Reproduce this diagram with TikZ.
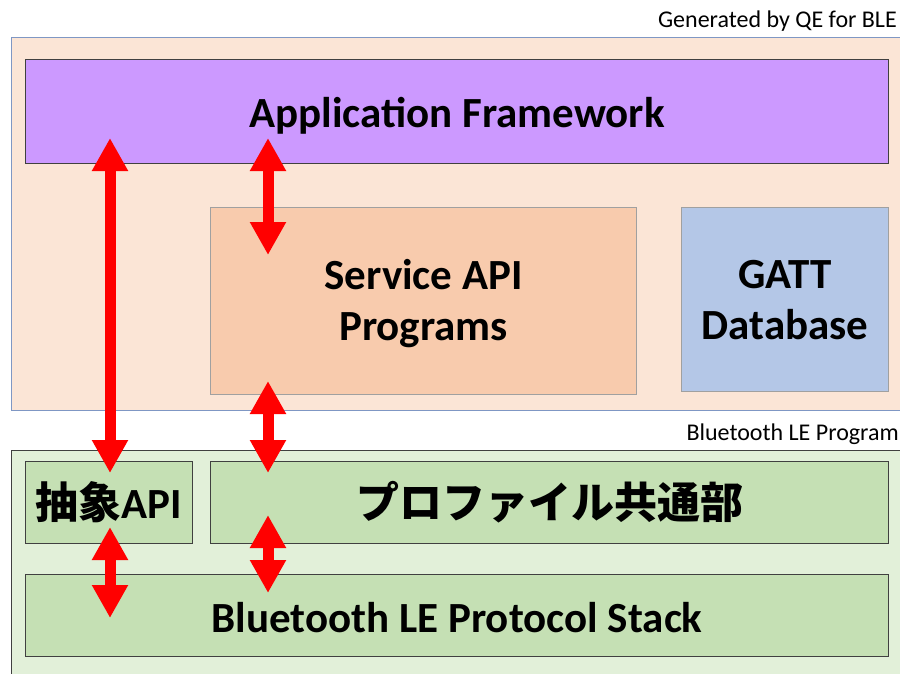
\documentclass[tikz,border=0pt]{standalone}
\usepackage{fontspec}
\setmainfont{Carlito}
\newfontfamily\cjk{Noto Sans CJK JP}
\usetikzlibrary{arrows.meta}
\definecolor{peach}{HTML}{FBE5D6}
\definecolor{peachline}{HTML}{7F97C4}
\definecolor{lilac}{HTML}{CC99FF}
\definecolor{salmon}{HTML}{F8CBAD}
\definecolor{skyb}{HTML}{B4C7E7}
\definecolor{palegreen}{HTML}{E2F0D9}
\definecolor{midgreen}{HTML}{C5E0B4}
\definecolor{darkline}{HTML}{404040}
\definecolor{grayline}{HTML}{A0A0A0}
\newcommand{\lowr}[2]{\raisebox{-#1}[\height][\depth]{#2}}
\tikzset{
  box/.style={draw, line width=1.2pt, inner sep=0pt, align=center, font=\fontsize{43}{51}\selectfont\bfseries},
  dbl/.style={draw=red, line width=11pt,
    {Triangle[width=34pt,length=33pt]}-{Triangle[width=34pt,length=33pt]}},
  small/.style={font=\fontsize{24}{28}\selectfont, inner sep=0pt, anchor=base east}
}
\begin{document}
\begin{tikzpicture}[x=1pt,y=-1pt]
\useasboundingbox (0,0) rectangle (900,673);
\fill[white] (0,0) rectangle (900,673);
% outer regions
\node[draw=peachline, fill=peach, line width=1.2pt, minimum width=900pt, minimum height=373pt, inner sep=0pt, anchor=north west] (upper) at (11,37) {};
\node[draw=darkline, fill=palegreen, line width=1.2pt, minimum width=900pt, minimum height=240pt, inner sep=0pt, anchor=north west] (lower) at (11,450) {};
\node[small] (gen) at (897,27) {Generated by QE for BLE};
\node[small] (btl) at (899,440) {Bluetooth LE Program};
% boxes
\node[box, draw=darkline, fill=lilac, minimum width=863pt, minimum height=104pt, anchor=north west] (app) at (25,59) {\lowr{4pt}{Application Framework}};
\node[box, draw=grayline, fill=salmon, minimum width=426pt, minimum height=187pt, anchor=north west] (svc) at (210,207) {\lowr{4pt}{\begin{tabular}{@{}c@{}}Service API\\Programs\end{tabular}}};
\node[box, draw=grayline, fill=skyb, minimum width=207pt, minimum height=184pt, anchor=north west] (gatt) at (681,207) {GATT\\Database};
\node[box, draw=darkline, fill=midgreen, minimum width=167pt, minimum height=82pt, anchor=north west] (abs) at (25,461) {{\cjk\bfseries 抽象}API};
\node[box, draw=darkline, fill=midgreen, minimum width=678pt, minimum height=82pt, anchor=north west] (prof) at (210,461) {{\cjk\bfseries プロファイル共通部}};
\node[box, draw=darkline, fill=midgreen, minimum width=863pt, minimum height=82pt, anchor=north west] (stack) at (25,574) {\lowr{2pt}{Bluetooth LE Protocol Stack}};
% arrow ends
\coordinate (a1t) at (110,138);
\coordinate (a1b) at (110,473);
\coordinate (a2t) at (268,138);
\coordinate (a2b) at (268,255);
\coordinate (a3t) at (268,381);
\coordinate (a3b) at (268,473);
\coordinate (a4t) at (110,527);
\coordinate (a4b) at (110,618);
\coordinate (a5t) at (268,515);
\coordinate (a5b) at (268,593);
\draw[dbl] (a1t) -- (a1b);
\draw[dbl] (a2t) -- (a2b);
\draw[dbl] (a3t) -- (a3b);
\draw[dbl] (a4t) -- (a4b);
\draw[dbl] (a5t) -- (a5b);
\end{tikzpicture}
\end{document}
